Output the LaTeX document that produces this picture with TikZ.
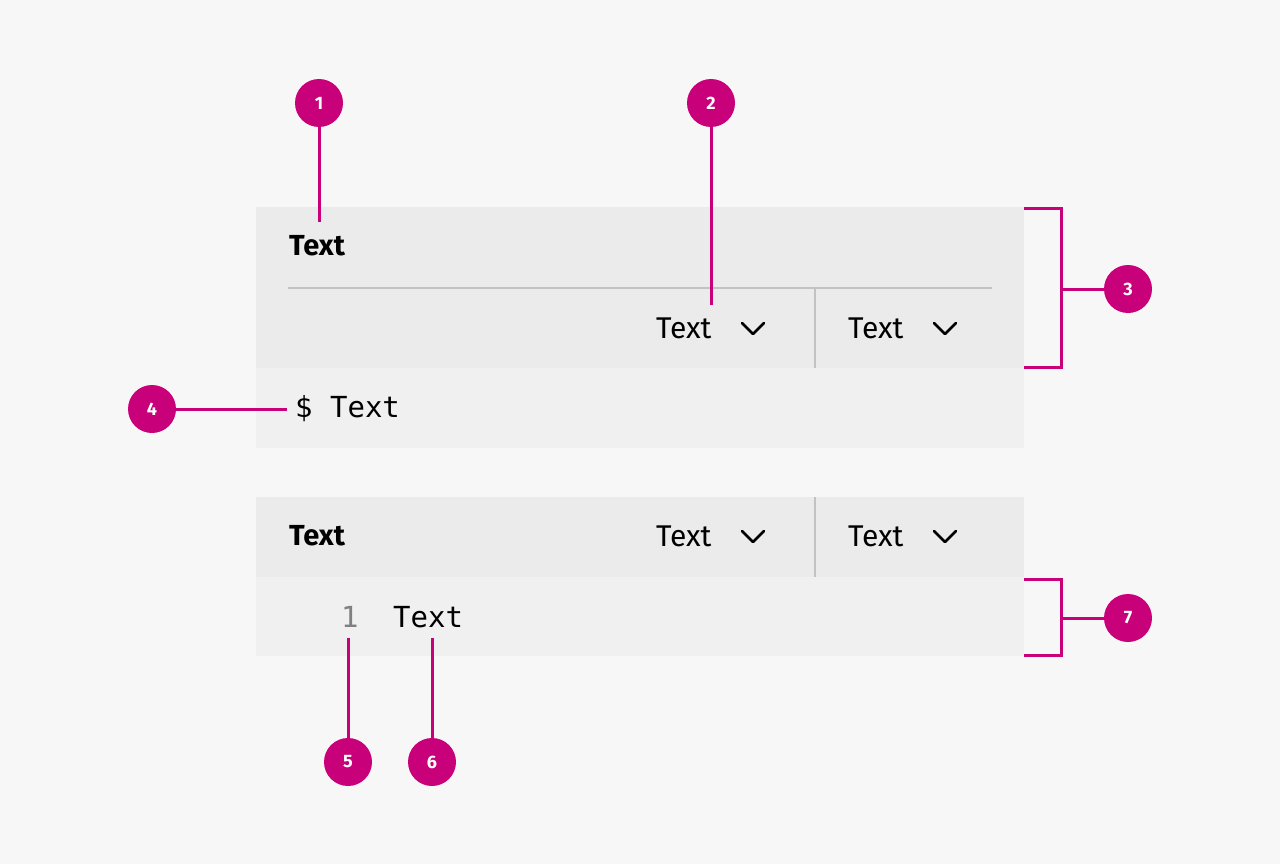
\documentclass[tikz,border=0pt]{standalone}
\usepackage{fontspec}
\setmainfont{Fira Sans}
\setmonofont{DejaVu Sans Mono}
\begin{document}
\begin{tikzpicture}[x=1pt,y=-1pt,
  mag/.style={draw=callout,line width=3pt},
  badge/.style={circle,fill=callout,minimum size=48pt,inner sep=0pt,text=white,font=\fontsize{18}{20}\selectfont\bfseries},
  lbl/.style={anchor=west,inner sep=0pt,font=\fontsize{30}{32}\selectfont},
  hd/.style={anchor=west,inner sep=0pt,font=\fontsize{29}{32}\selectfont\bfseries},
  mono/.style={anchor=west,inner sep=0pt,font=\fontsize{29}{32}\selectfont\ttfamily},
  sep/.style={draw=sepc,line width=1.5pt},
  chev/.style={line width=2.5pt,line cap=round,line join=round}]
\definecolor{bg}{HTML}{F7F7F7}
\definecolor{hdr}{HTML}{EBEBEB}
\definecolor{body}{HTML}{F0F0F0}
\definecolor{sepc}{HTML}{C2C2C2}
\definecolor{callout}{HTML}{C8007A}
\fill[bg] (0,0) rectangle (1280,864);
\useasboundingbox (0,0) rectangle (1280,864);
% panel 1
\fill[hdr] (256,207) rectangle (1024,368);
\fill[body] (256,368) rectangle (1024,448);
\draw[sep] (288,288) -- (992,288);
\draw[sep] (815,288) -- (815,368);
\node[hd] (t1) at (289,246) {Text};
\node[lbl] (d1) at (656,328) {Text};
\draw[chev] (742,323) -- (753,334) -- (764,323);
\node[lbl] (d2) at (848,328) {Text};
\draw[chev] (934,323) -- (945,334) -- (956,323);
\node[mono] (cmd) at (295,409) {\$ Text};
% panel 2
\fill[hdr] (256,497) rectangle (1024,577);
\fill[body] (256,577) rectangle (1024,656);
\draw[sep] (815,497) -- (815,577);
\node[hd] (t2) at (289,536) {Text};
\node[lbl] (d3) at (656,536) {Text};
\draw[chev] (742,531) -- (753,542) -- (764,531);
\node[lbl] (d4) at (848,536) {Text};
\draw[chev] (934,531) -- (945,542) -- (956,531);
\node[mono,text=gray] (ln) at (341,617) {1};
\node[mono] (code) at (393,617) {Text};
% callouts
\node[badge] (b1) at (319,103) {1};
\node[badge] (b2) at (711,103) {2};
\node[badge] (b3) at (1128,289) {3};
\node[badge] (b4) at (152,409) {4};
\node[badge] (b5) at (348,762) {5};
\node[badge] (b6) at (432,762) {6};
\node[badge] (b7) at (1128,618) {7};
\coordinate (e1) at (319,222);
\coordinate (e2) at (711,305);
\coordinate (e4) at (287,409);
\coordinate (e5) at (348,638);
\coordinate (e6) at (432,638);
\draw[mag] (b1) -- (e1);
\draw[mag] (b2) -- (e2);
\draw[mag] (b4) -- (e4);
\draw[mag] (b5) -- (e5);
\draw[mag] (b6) -- (e6);
\draw[mag] (1024,208) -- (1061,208) -- (1061,367) -- (1024,367);
\coordinate (k3) at (1061,289);
\draw[mag] (k3) -- (b3);
\draw[mag] (1024,579) -- (1061,579) -- (1061,655) -- (1024,655);
\coordinate (k7) at (1061,618);
\draw[mag] (k7) -- (b7);
\end{tikzpicture}
\end{document}
